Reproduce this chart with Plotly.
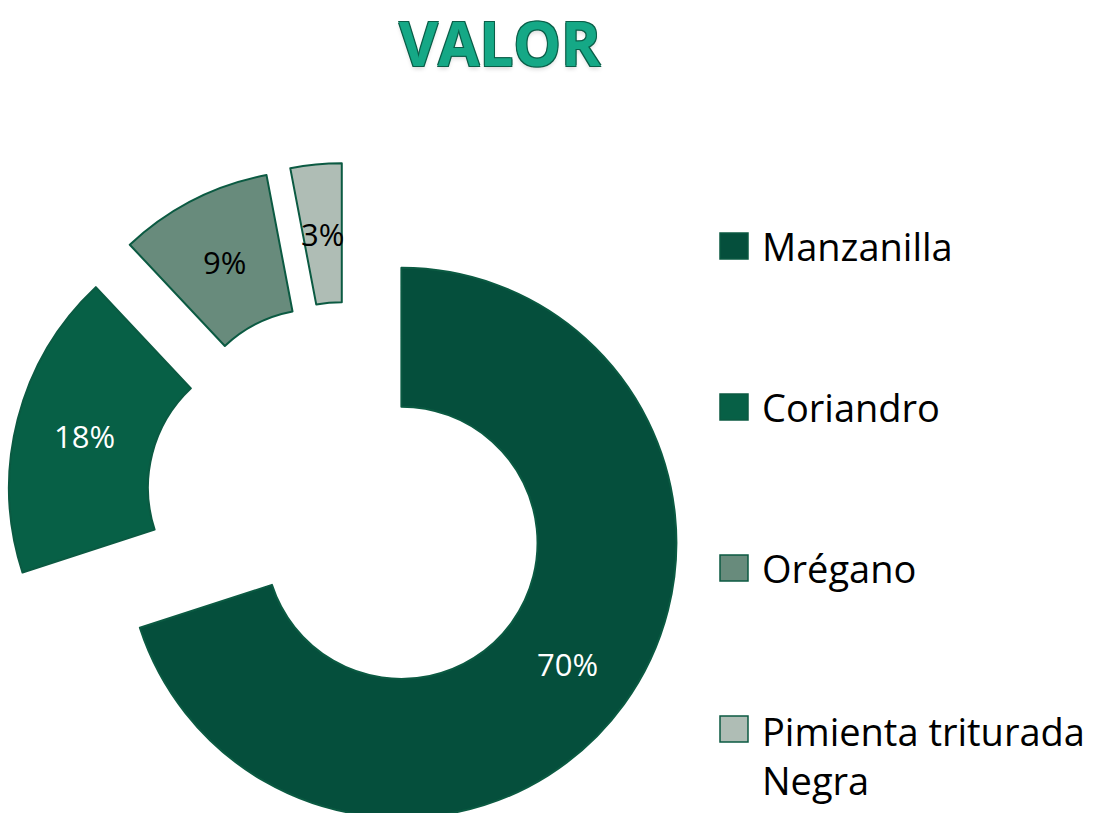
import math
import plotly.graph_objects as go

# ---- data ----
labels = ["Manzanilla", "Coriandro", "Orégano", "Pimienta triturada<br>Negra"]
values = [70, 18, 9, 3]
slice_colors = ["#054f3c", "#076046", "#688b7c", "#afbdb5"]
label_text_colors = ["#ffffff", "#ffffff", "#000000", "#000000"]
title_text = "VALOR"

# ---- layout geometry (pixels) ----
W, H = 1097, 880          # figure taller than the 813px window: bottom gets clipped like the reference
cx, cy = 348, 504         # pie centre before pulling
radius = 275
pull = 0.24
hole = 0.495
half = radius * (1 + pull)

def px(x):
    return x / W

def py(y):
    return 1 - y / H

fig = go.Figure()
fig.add_trace(go.Pie(
    labels=labels,
    values=values,
    hole=hole,
    sort=False,
    direction="clockwise",
    rotation=0,
    pull=[pull] * len(values),
    marker=dict(colors=slice_colors, line=dict(color="#0b5a42", width=2)),
    textinfo="none",
    domain=dict(x=[px(cx - half), px(cx + half)], y=[py(cy + half), py(cy - half)]),
    showlegend=False,
    hoverinfo="label+percent",
))

annotations, shapes = [], []

# ---- percentage labels, placed at the middle of each (pulled) ring segment ----
total = sum(values)
cum = 0
mid_r = radius * (1 + hole) / 2
for v, tc in zip(values, label_text_colors):
    theta = math.radians((cum + v / 2) / total * 360)
    cum += v
    dx, dy = math.sin(theta), -math.cos(theta)
    dist = radius * pull + mid_r
    annotations.append(dict(text=f"{round(100 * v / total)}%", xref="paper", yref="paper",
                            x=px(cx + dist * dx), y=py(cy + dist * dy),
                            xanchor="center", yanchor="middle", showarrow=False,
                            font=dict(family="Open Sans", size=31, color=tc)))

# ---- manual legend (large squares like the reference) ----
leg_x0, leg_y0, leg_gap = 720, 246, 161
for i, (lab, col) in enumerate(zip(labels, slice_colors)):
    yc = leg_y0 + i * leg_gap
    shapes.append(dict(type="rect", xref="paper", yref="paper",
                       x0=px(leg_x0), x1=px(leg_x0 + 28), y0=py(yc + 13), y1=py(yc - 13),
                       fillcolor=col, line=dict(color="#0b5a42", width=1.5)))
    nlines = lab.count("<br>") + 1
    annotations.append(dict(text=lab, xref="paper", yref="paper",
                            x=px(leg_x0 + 40), y=py(yc + (nlines - 1) * 26),
                            xanchor="left", yanchor="middle", align="left", showarrow=False,
                            font=dict(family="Open Sans", size=38, color="#000000")))

# ---- title ----
outline = "#0a5e48"
annotations.append(dict(text=title_text, xref="paper", yref="paper",
                        x=px(500), y=1, xanchor="center", yanchor="top", showarrow=False,
                        font=dict(family="Open Sans", size=60, weight="bold", color="#15a886",
                                  shadow=f"1px 1px 0 {outline}, -1px -1px 0 {outline}, 1px -1px 0 {outline}, -1px 1px 0 {outline}, 0 3px 4px rgba(0,0,0,0.15)")))

fig.update_layout(
    width=W, height=H,
    margin=dict(l=0, r=0, t=0, b=0),
    paper_bgcolor="#ffffff",
    plot_bgcolor="#ffffff",
    shapes=shapes,
    annotations=annotations,
)

fig.write_html("out.html",
               config={"displayModeBar": False},
               post_script="document.body.style.margin='0';document.body.style.overflow='hidden';document.documentElement.style.overflow='hidden';")
